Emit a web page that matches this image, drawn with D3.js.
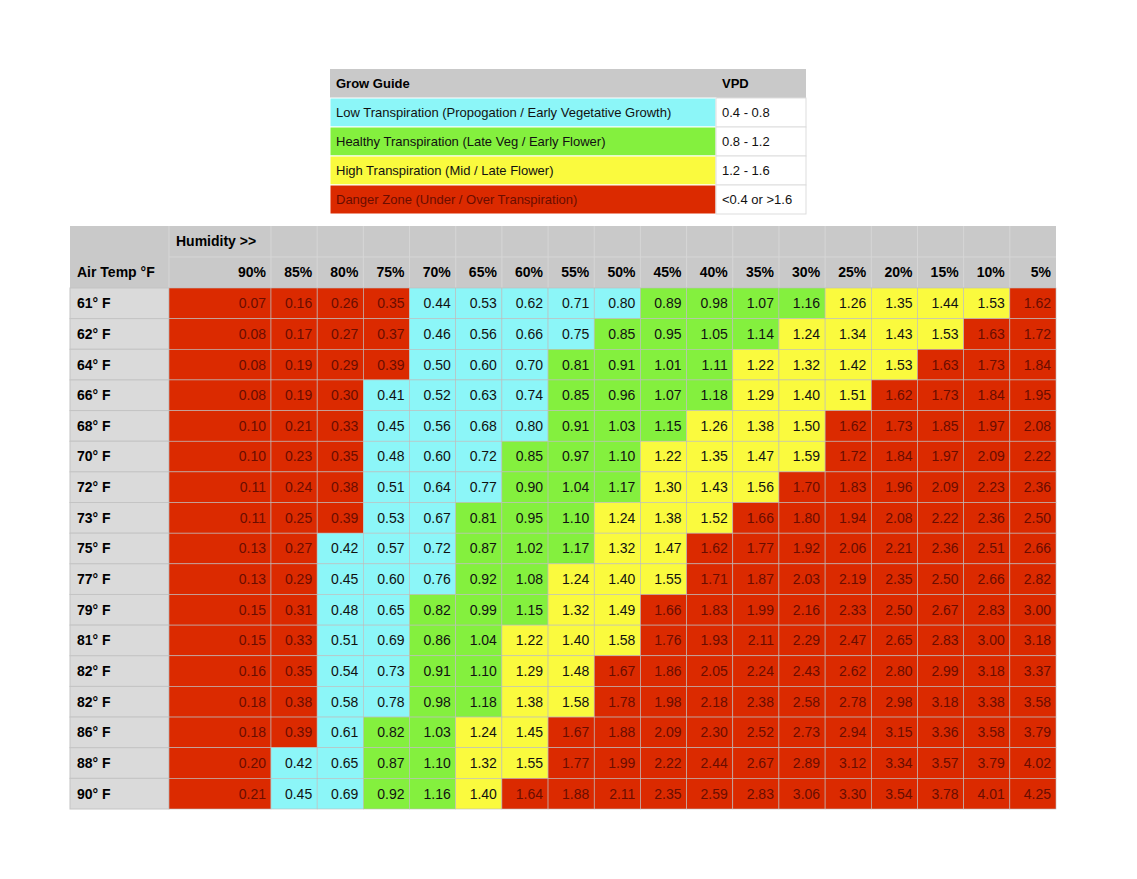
<!DOCTYPE html>
<html><head><meta charset="utf-8">
<script src="https://cdn.jsdelivr.net/npm/d3@7"></script>
<style>body{margin:0;background:#fff;font-family:"Liberation Sans",Arial,sans-serif}</style>
</head><body><svg id="chart" width="1137" height="879"></svg>
<script>
// Data
const humidity = ["90%","85%","80%","75%","70%","65%","60%","55%","50%","45%","40%","35%","30%","25%","20%","15%","10%","5%"];
const temps = ["61° F","62° F","64° F","66° F","68° F","70° F","72° F","73° F","75° F","77° F","79° F","81° F","82° F","82° F","86° F","88° F","90° F"];
const vpd = [
  [0.07,0.16,0.26,0.35,0.44,0.53,0.62,0.71,0.80,0.89,0.98,1.07,1.16,1.26,1.35,1.44,1.53,1.62],
  [0.08,0.17,0.27,0.37,0.46,0.56,0.66,0.75,0.85,0.95,1.05,1.14,1.24,1.34,1.43,1.53,1.63,1.72],
  [0.08,0.19,0.29,0.39,0.50,0.60,0.70,0.81,0.91,1.01,1.11,1.22,1.32,1.42,1.53,1.63,1.73,1.84],
  [0.08,0.19,0.30,0.41,0.52,0.63,0.74,0.85,0.96,1.07,1.18,1.29,1.40,1.51,1.62,1.73,1.84,1.95],
  [0.10,0.21,0.33,0.45,0.56,0.68,0.80,0.91,1.03,1.15,1.26,1.38,1.50,1.62,1.73,1.85,1.97,2.08],
  [0.10,0.23,0.35,0.48,0.60,0.72,0.85,0.97,1.10,1.22,1.35,1.47,1.59,1.72,1.84,1.97,2.09,2.22],
  [0.11,0.24,0.38,0.51,0.64,0.77,0.90,1.04,1.17,1.30,1.43,1.56,1.70,1.83,1.96,2.09,2.23,2.36],
  [0.11,0.25,0.39,0.53,0.67,0.81,0.95,1.10,1.24,1.38,1.52,1.66,1.80,1.94,2.08,2.22,2.36,2.50],
  [0.13,0.27,0.42,0.57,0.72,0.87,1.02,1.17,1.32,1.47,1.62,1.77,1.92,2.06,2.21,2.36,2.51,2.66],
  [0.13,0.29,0.45,0.60,0.76,0.92,1.08,1.24,1.40,1.55,1.71,1.87,2.03,2.19,2.35,2.50,2.66,2.82],
  [0.15,0.31,0.48,0.65,0.82,0.99,1.15,1.32,1.49,1.66,1.83,1.99,2.16,2.33,2.50,2.67,2.83,3.00],
  [0.15,0.33,0.51,0.69,0.86,1.04,1.22,1.40,1.58,1.76,1.93,2.11,2.29,2.47,2.65,2.83,3.00,3.18],
  [0.16,0.35,0.54,0.73,0.91,1.10,1.29,1.48,1.67,1.86,2.05,2.24,2.43,2.62,2.80,2.99,3.18,3.37],
  [0.18,0.38,0.58,0.78,0.98,1.18,1.38,1.58,1.78,1.98,2.18,2.38,2.58,2.78,2.98,3.18,3.38,3.58],
  [0.18,0.39,0.61,0.82,1.03,1.24,1.45,1.67,1.88,2.09,2.30,2.52,2.73,2.94,3.15,3.36,3.58,3.79],
  [0.20,0.42,0.65,0.87,1.10,1.32,1.55,1.77,1.99,2.22,2.44,2.67,2.89,3.12,3.34,3.57,3.79,4.02],
  [0.21,0.45,0.69,0.92,1.16,1.40,1.64,1.88,2.11,2.35,2.59,2.83,3.06,3.30,3.54,3.78,4.01,4.25]
];
const guideLabels = ["Low Transpiration (Propogation / Early Vegetative Growth)","Healthy Transpiration (Late Veg / Early Flower)","High Transpiration (Mid / Late Flower)","Danger Zone (Under / Over Transpiration)"];
const guideRanges = ["0.4 - 0.8","0.8 - 1.2","1.2 - 1.6","<0.4 or >1.6"];

const zoneColors = ["#8cf6f8","#84f03e","#fafa3e","#db2a00"];
const headGray = "#c9c9c9", labelGray = "#dadada", lineCol = "#bdbdbd";
function zone(v) { return v < 0.4 ? 3 : v <= 0.8 ? 0 : v < 1.2 ? 1 : v <= 1.6 ? 2 : 3; }

const svg = d3.select("#chart");

// Legend table
const gy = d3.scaleBand().domain(d3.range(5)).range([69, 214]);
const legend = svg.append("g");
legend.append("rect").attr("x",330).attr("y",gy(0)).attr("width",476).attr("height",gy.bandwidth()).attr("fill",headGray);
legend.selectAll(".gl").data(guideLabels).enter().append("rect")
  .attr("x",330).attr("y",(d,i)=>gy(i+1)).attr("width",386).attr("height",gy.bandwidth())
  .attr("fill",(d,i)=>zoneColors[i]).attr("stroke","#fff");
legend.selectAll(".gr").data(guideRanges).enter().append("rect")
  .attr("x",716).attr("y",(d,i)=>gy(i+1)).attr("width",90).attr("height",gy.bandwidth())
  .attr("fill","#fff").attr("stroke","#ddd");
legend.append("text").attr("x",336).attr("y",gy(0)+gy.bandwidth()/2).attr("dy","0.35em")
  .attr("font-size",13).attr("font-weight","bold").text("Grow Guide");
legend.append("text").attr("x",722).attr("y",gy(0)+gy.bandwidth()/2).attr("dy","0.35em")
  .attr("font-size",13).attr("font-weight","bold").text("VPD");
legend.selectAll(".glt").data(guideLabels).enter().append("text")
  .attr("x",336).attr("y",(d,i)=>gy(i+1)+gy.bandwidth()/2).attr("dy","0.35em")
  .attr("font-size",13).attr("fill",(d,i)=>i===3?"#6a0d00":"#111").text(d=>d);
legend.selectAll(".grt").data(guideRanges).enter().append("text")
  .attr("x",722).attr("y",(d,i)=>gy(i+1)+gy.bandwidth()/2).attr("dy","0.35em")
  .attr("font-size",13).attr("fill","#111").text(d=>d);

// Main table
const left = 70, labelW = 99, firstW = 102, right = 1056;
const colW = (right - left - labelW - firstW) / (humidity.length - 1);
const x0 = i => i === 0 ? left + labelW : left + labelW + firstW + (i - 1) * colW;
const cw = i => i === 0 ? firstW : colW;
const tableTop = 226, headH = 31;
const y = d3.scaleBand().domain(d3.range(temps.length)).range([tableTop + 2 * headH, 809]);

const t = svg.append("g");
t.append("rect").attr("x",left).attr("y",tableTop).attr("width",right-left).attr("height",2*headH).attr("fill",headGray);
humidity.forEach((h,i)=>{
  t.append("line").attr("x1",x0(i)).attr("x2",x0(i)).attr("y1",tableTop).attr("y2",tableTop+2*headH).attr("stroke","#d6d6d6");
});
t.append("line").attr("x1",left+labelW).attr("x2",right).attr("y1",tableTop+headH).attr("y2",tableTop+headH).attr("stroke","#d6d6d6");
t.append("text").attr("x",176).attr("y",tableTop+headH/2).attr("dy","0.35em")
  .attr("font-size",14).attr("font-weight","bold").text("Humidity >>");
t.append("text").attr("x",77).attr("y",tableTop+headH*1.5).attr("dy","0.35em")
  .attr("font-size",14).attr("font-weight","bold").text("Air Temp °F");
t.selectAll(".hh").data(humidity).enter().append("text")
  .attr("x",(d,i)=>x0(i)+cw(i)-5).attr("y",tableTop+headH*1.5).attr("dy","0.35em")
  .attr("text-anchor","end").attr("font-size",14).attr("font-weight","bold").text(d=>d);

// row labels
t.selectAll(".rl").data(temps).enter().append("rect")
  .attr("x",left).attr("y",(d,i)=>y(i)).attr("width",labelW).attr("height",y.bandwidth())
  .attr("fill",labelGray).attr("stroke","#c4c4c4");
t.selectAll(".rlt").data(temps).enter().append("text")
  .attr("x",77).attr("y",(d,i)=>y(i)+y.bandwidth()/2).attr("dy","0.35em")
  .attr("font-size",14).attr("font-weight","bold").text(d=>d);

// cells
const cells = vpd.flatMap((row,r)=>row.map((v,c)=>({r,c,v})));
t.selectAll(".cell").data(cells).enter().append("rect")
  .attr("x",d=>x0(d.c)).attr("y",d=>y(d.r)).attr("width",d=>cw(d.c)).attr("height",y.bandwidth())
  .attr("fill",d=>zoneColors[zone(d.v)]).attr("stroke",lineCol).attr("stroke-width",0.6);
t.selectAll(".ct").data(cells).enter().append("text")
  .attr("x",d=>x0(d.c)+cw(d.c)-5).attr("y",d=>y(d.r)+y.bandwidth()/2).attr("dy","0.35em")
  .attr("text-anchor","end").attr("font-size",14)
  .attr("fill",d=>zone(d.v)===3?"#6a0d00":"#111").text(d=>d.v.toFixed(2));
</script></body></html>
